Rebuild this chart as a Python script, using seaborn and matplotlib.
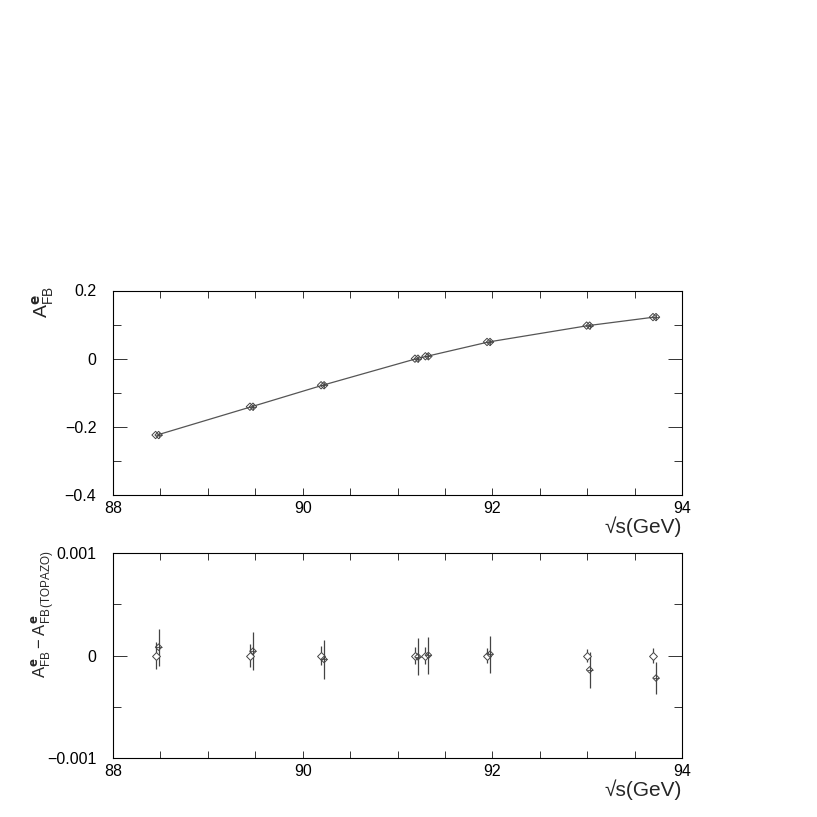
import numpy as np
import pandas as pd
import matplotlib
matplotlib.use("Agg")
import matplotlib.pyplot as plt
import seaborn as sns
from matplotlib.ticker import MultipleLocator, FixedLocator

sns.set_theme(style="white")
plt.rcParams['font.family'] = ['Liberation Sans', 'DejaVu Sans']
plt.rcParams['mathtext.fontset'] = 'custom'
plt.rcParams['mathtext.rm'] = 'Liberation Sans'
plt.rcParams['mathtext.sf'] = 'Liberation Sans'

# ---- data ----
sqrt_s = [88.465, 89.46, 90.21, 91.20, 91.31, 91.96, 93.01, 93.71]
afb = [-0.224, -0.141, -0.078, 0.000, 0.007, 0.049, 0.097, 0.122]

diff_ref = [0.0, 0.0, 0.0, 0.0, 0.0, 0.0, 0.0, 0.0]
diff_ref_err = [0.00013, 0.00011, 0.000095, 0.00008, 0.00008, 0.000075, 0.000065, 0.00007]
diff_calc = [0.000081, 0.000042, -0.000039, -0.000013, 0.000003, 0.000013, -0.00014, -0.00022]
diff_calc_err = [0.00018, 0.000185, 0.00019, 0.00018, 0.00018, 0.00018, 0.000175, 0.00016]

top_yticks = [-0.4, -0.2, 0, 0.2]
top_ytick_labels = ["\u22120.4", "\u22120.2", "0", "0.2"]
bot_yticks = [-0.001, 0, 0.001]
bot_ytick_labels = ["\u22120.001", "0", "0.001"]
xticks = [88, 90, 92, 94]
xtick_labels = ["88", "90", "92", "94"]

offset = 0.016
df_top = pd.DataFrame({"x": sqrt_s, "y": afb})
df_top["x_a"] = df_top["x"] - offset
df_top["x_b"] = df_top["x"] + offset

df_bot = pd.DataFrame({"x": sqrt_s, "ref": diff_ref, "ref_err": diff_ref_err,
                       "calc": diff_calc, "calc_err": diff_calc_err})
df_bot["x_a"] = df_bot["x"] - offset
df_bot["x_b"] = df_bot["x"] + offset

W, H = 817, 817
fig = plt.figure(figsize=(8.17, 8.17), dpi=100)
ax1 = fig.add_axes([113 / W, 1 - 495 / H, 569 / W, 204.5 / H])
ax2 = fig.add_axes([113 / W, 1 - 758 / H, 569 / W, 205 / H])

line_col = "#555555"
mk_col = "#444444"

# top panel
sns.lineplot(data=df_top, x="x", y="y", ax=ax1, color=line_col, lw=0.9, sort=True)
sns.scatterplot(data=df_top, x="x_a", y="y", ax=ax1, marker="D", s=14,
                facecolors="none", edgecolor=mk_col, linewidth=0.7, zorder=3)
sns.scatterplot(data=df_top, x="x_b", y="y", ax=ax1, marker="D", s=14,
                facecolors="none", edgecolor=mk_col, linewidth=0.7, zorder=3)
sns.scatterplot(data=df_top, x="x_b", y="y", ax=ax1, marker="+", s=18,
                color=mk_col, linewidth=0.6, zorder=4)

# bottom panel
ax2.errorbar(df_bot["x_a"], df_bot["ref"], yerr=df_bot["ref_err"], fmt="none",
             ecolor=mk_col, elinewidth=0.9, capsize=0)
ax2.errorbar(df_bot["x_b"], df_bot["calc"], yerr=df_bot["calc_err"], fmt="none",
             ecolor=mk_col, elinewidth=0.9, capsize=0)
sns.scatterplot(data=df_bot, x="x_a", y="ref", ax=ax2, marker="D", s=16,
                facecolors="white", edgecolor=mk_col, linewidth=0.7, zorder=3)
sns.scatterplot(data=df_bot, x="x_b", y="calc", ax=ax2, marker="D", s=11,
                facecolors="none", edgecolor=mk_col, linewidth=0.7, zorder=4)
sns.scatterplot(data=df_bot, x="x_b", y="calc", ax=ax2, marker="+", s=16,
                color=mk_col, linewidth=0.6, zorder=5)

for ax, yt, ytl, ylim, yminor in [
        (ax1, top_yticks, top_ytick_labels, (-0.4, 0.2), 0.1),
        (ax2, bot_yticks, bot_ytick_labels, (-0.001, 0.001), 0.0005)]:
    ax.set_xlim(88, 94)
    ax.set_ylim(*ylim)
    ax.xaxis.set_major_locator(FixedLocator(xticks))
    ax.set_xticklabels(xtick_labels)
    ax.xaxis.set_minor_locator(MultipleLocator(0.5))
    ax.yaxis.set_major_locator(FixedLocator(yt))
    ax.set_yticklabels(ytl)
    ax.yaxis.set_minor_locator(MultipleLocator(yminor))
    ax.tick_params(axis="both", which="both", direction="in", top=True, right=True,
                   bottom=True, left=True, colors="#333333", labelcolor="black",
                   labelsize=11.5, width=0.7)
    ax.tick_params(axis="x", which="major", length=5, pad=4)
    ax.tick_params(axis="x", which="minor", length=5)
    ax.tick_params(axis="y", which="major", length=10, pad=12)
    ax.tick_params(axis="y", which="minor", length=6)
    for sp in ax.spines.values():
        sp.set_color("black")
        sp.set_linewidth(0.8)
    ax.set_xlabel("")
    ax.set_ylabel("")
    ax.text(1.0, -0.105, "\u221as(GeV)", transform=ax.transAxes, ha="right",
            va="top", fontsize=15)

fig.text(43 / W, 1 - 302 / H, r"$\mathsf{A}^{\mathbf{e}}_{\mathsf{FB}}$",
         rotation=90, ha="center", va="center", fontsize=14)
fig.text(43 / W, 1 - 614 / H,
         r"$\mathsf{A}^{\mathbf{e}}_{\mathsf{FB}}-\mathsf{A}^{\mathbf{e}}_{\mathsf{FB\,(TOPAZO)}}$",
         rotation=90, ha="center", va="center", fontsize=12)

fig.savefig("out.png", dpi=100, facecolor="white")
